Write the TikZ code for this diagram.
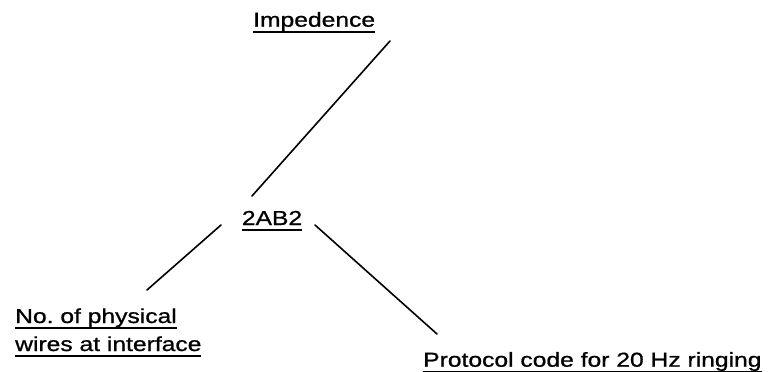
\documentclass[tikz,border=0pt]{standalone}
\usepackage{fontspec}
\setmainfont{Liberation Sans}[FakeStretch=1.22, FakeBold=0.9]
\frenchspacing
% underlined label: fixed rule just below the baseline
\newcommand\ulabel[1]{\setbox0\hbox{#1}\rlap{\rule[-6.2pt]{\wd0}{2pt}}\box0}
\tikzset{
  lbl/.style={anchor=base west, inner sep=0pt, font=\fontsize{20.2}{28}\selectfont},
  link/.style={line width=1.6pt, line cap=round}
}
\begin{document}
\begin{tikzpicture}[x=1pt,y=-1pt]
  \useasboundingbox (0,0) rectangle (771,372);
  \node[lbl] (imp)   at (253,26.7)  {\ulabel{Impedence}};
  \node[lbl] (hub)   at (241.7,225) {\ulabel{2AB2}};
  \node[lbl, align=left] (wires) at (15,351) {\ulabel{No. of physical}\\\ulabel{wires at interface}};
  \node[lbl] (proto) at (423,366.7) {\ulabel{Protocol code for 20 Hz ringing}};
  % connector ends
  \coordinate (impEnd)   at (390,41);
  \coordinate (hubUp)    at (252,196);
  \coordinate (hubLeft)  at (221,225);
  \coordinate (wiresEnd) at (147,290);
  \coordinate (hubRight) at (315,225);
  \coordinate (protoEnd) at (437,334);
  \draw[link] (impEnd) -- (hubUp);
  \draw[link] (hubLeft) -- (wiresEnd);
  \draw[link] (hubRight) -- (protoEnd);
\end{tikzpicture}
\end{document}
